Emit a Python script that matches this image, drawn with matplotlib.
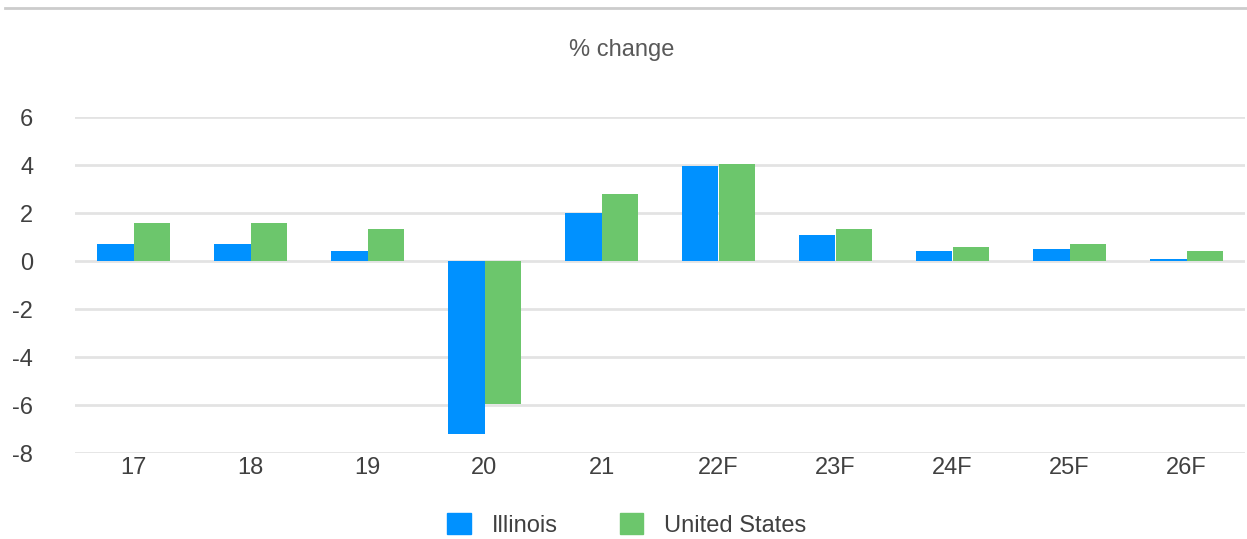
import numpy as np
import matplotlib.pyplot as plt
from matplotlib.patches import Patch
from matplotlib.lines import Line2D

years = ["17", "18", "19", "20", "21", "22F", "23F", "24F", "25F", "26F"]
illinois = [0.7, 0.7, 0.4, -7.2, 2.0, 3.95, 1.1, 0.4, 0.5, 0.1]
united_states = [1.6, 1.6, 1.35, -5.95, 2.8, 4.05, 1.35, 0.6, 0.7, 0.4]

blue = "#0091FF"
green = "#6CC66C"
text_col = "#404040"
fs = 17

plt.rcParams['font.family'] = ['Liberation Sans', 'DejaVu Sans']
plt.rcParams['axes.unicode_minus'] = False

fig = plt.figure(figsize=(12.47, 5.39), dpi=100)
ax = fig.add_axes([75 / 1247, 1 - 453 / 539, 1170 / 1247, (453 - 117) / 539])

x = np.arange(len(years))
w = 0.31
ax.bar(x - w / 2, illinois, w, color=blue, zorder=3)
ax.bar(x + w / 2, united_states, w, color=green, zorder=3)

ax.set_xlim(-0.5, len(years) - 0.5)
ax.set_ylim(-8, 6)
ax.set_yticks(range(-8, 7, 2))
ax.set_xticks(x)
ax.set_xticklabels(years)
ax.grid(axis="y", color="#e3e3e3", linewidth=2, zorder=0)
ax.tick_params(length=0, labelsize=fs, colors=text_col)
ax.tick_params(axis="x", pad=3)
ax.tick_params(axis="y", pad=30)
for s in ax.spines.values():
    s.set_visible(False)

# top rule and title
fig.add_artist(Line2D([0.004, 1], [1 - 8 / 539] * 2, color="#cccccc", linewidth=2,
                      transform=fig.transFigure))
fig.text(622 / 1247, 1 - 50 / 539, "% change", ha="center", va="center",
         fontsize=fs, color="#595959")

handles = [Patch(color=blue, label="Illinois"), Patch(color=green, label="United States")]
fig.legend(handles=handles, loc="center", bbox_to_anchor=(627 / 1247, 1 - 525 / 539),
           ncol=2, frameon=False, fontsize=fs, labelcolor=text_col,
           handlelength=1.0, handleheight=1.0, handletextpad=0.9, columnspacing=2.6,
           borderpad=0, borderaxespad=0)

fig.savefig("out.png", dpi=100)
